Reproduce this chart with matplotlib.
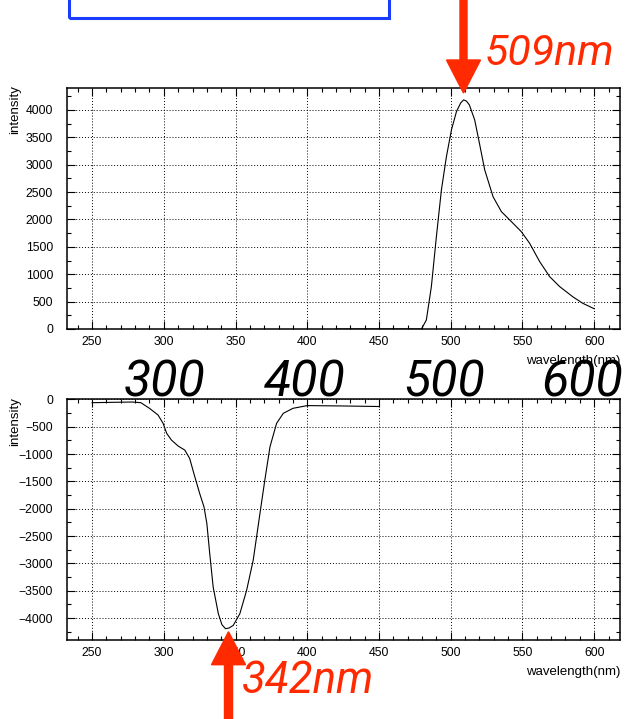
import matplotlib
matplotlib.use("Agg")
import matplotlib.pyplot as plt
from matplotlib.patches import FancyArrow, Rectangle
from matplotlib.ticker import MultipleLocator
from matplotlib.transforms import IdentityTransform

W, H = 629, 719
RED = "#ff2a00"
BLUE = "#1a3cff"
BIG_FONT = ["Liberation Sans Narrow", "Roboto", "DejaVu Sans"]

# emission spectrum (top)
em_wl = [420, 470, 479.6, 483, 486.5, 490, 493.5, 497, 500.5, 504, 507, 509,
         511, 513, 516.7, 520, 523.7, 529.5, 535.3, 542.3, 549.2, 555, 562,
         569, 576, 585, 592, 600]
em_int = [0, 0, 0, 164, 773, 1686, 2539, 3148, 3635, 3970, 4130, 4183,
          4160, 4091, 3817, 3392, 2904, 2416, 2143, 1960, 1777, 1565, 1230,
          955, 773, 590, 470, 370]

# excitation spectrum (bottom, plotted negative)
ex_wl = [250, 265, 278, 284, 290, 296, 299.5, 302, 305.3, 310, 314.6, 318,
         321.6, 325, 328, 330, 332, 334.4, 338, 340.5, 343, 345.5, 348.4, 353,
         357.7, 362.3, 367, 370.4, 374, 378.6, 383.3, 390, 400, 425, 450]
ex_int = [-62, -55, -50, -62, -165, -288, -440, -623, -745, -855, -928, -1080,
          -1417, -1722, -1967, -2271, -2820, -3432, -3919, -4120, -4194, -4180,
          -4133, -3919, -3493, -2943, -2088, -1478, -868, -440, -256, -165,
          -115, -122, -132]

big_labels = ["300", "400", "500", "600"]
big_x = [165, 305, 444, 582]

plt.rcParams["font.family"] = ["Liberation Sans", "DejaVu Sans"]

fig = plt.figure(figsize=(W / 100, H / 100), dpi=100)
ax1 = fig.add_axes([67 / W, 1 - 329 / H, 553 / W, 241 / H])
ax2 = fig.add_axes([67 / W, 1 - 640 / H, 553 / W, 240.7 / H])

for ax, ylim in ((ax1, (0, 4400)), (ax2, (-4400, 0))):
    ax.set_xlim(232.5, 618)
    ax.set_ylim(*ylim)
    ax.xaxis.set_major_locator(MultipleLocator(50))
    ax.xaxis.set_minor_locator(MultipleLocator(10))
    ax.yaxis.set_major_locator(MultipleLocator(500))
    ax.yaxis.set_minor_locator(MultipleLocator(250))
    ax.tick_params(which="both", direction="in", top=True, right=True,
                   width=0.8, labelsize=8.8)
    ax.tick_params(which="major", length=6)
    ax.tick_params(which="minor", length=3)
    ax.tick_params(axis="y", pad=10)
    ax.tick_params(axis="x", pad=5)
    ax.grid(True, which="major", linestyle=(0, (1, 2)), color="black",
            linewidth=0.7)
    for s in ax.spines.values():
        s.set_linewidth(1.1)
    ax.set_xlabel("wavelength(nm)", loc="right", fontsize=9.5, labelpad=5)
    ax.set_ylabel("intensity", loc="top", fontsize=9.5)
    ax.yaxis.set_label_coords(-0.083, 1.01)

ax1.plot(em_wl, em_int, color="black", lw=0.8)
ax2.plot(ex_wl, ex_int, color="black", lw=0.8)

# blue box at the top (clipped by figure edge)
fig.add_artist(Rectangle((69, H - 18), 320, 40, fill=False, edgecolor=BLUE,
                         linewidth=2.2, transform=IdentityTransform()))

# red arrows marking the peaks
fig.add_artist(FancyArrow(463.5, H + 5, 0, -(93 + 5), width=7,
                          head_width=34, head_length=33,
                          length_includes_head=True, color=RED,
                          transform=IdentityTransform()))
fig.add_artist(FancyArrow(228.5, -5, 0, (H - 631.7) + 5, width=8,
                          head_width=34, head_length=33,
                          length_includes_head=True, color=RED,
                          transform=IdentityTransform()))

fig.text(485, H - 65, "509nm", color=RED, fontsize=31, style="italic",
         family=BIG_FONT, ha="left", va="baseline",
         transform=IdentityTransform())
fig.text(242, H - 693, "342nm", color=RED, fontsize=31.5, style="italic",
         family=BIG_FONT, ha="left", va="baseline",
         transform=IdentityTransform())

for lab, x in zip(big_labels, big_x):
    fig.text(x, H - 396.7, lab, color="black", fontsize=36, style="italic",
             family=BIG_FONT, ha="center", va="baseline",
             transform=IdentityTransform())

fig.savefig("out.png", dpi=100)
